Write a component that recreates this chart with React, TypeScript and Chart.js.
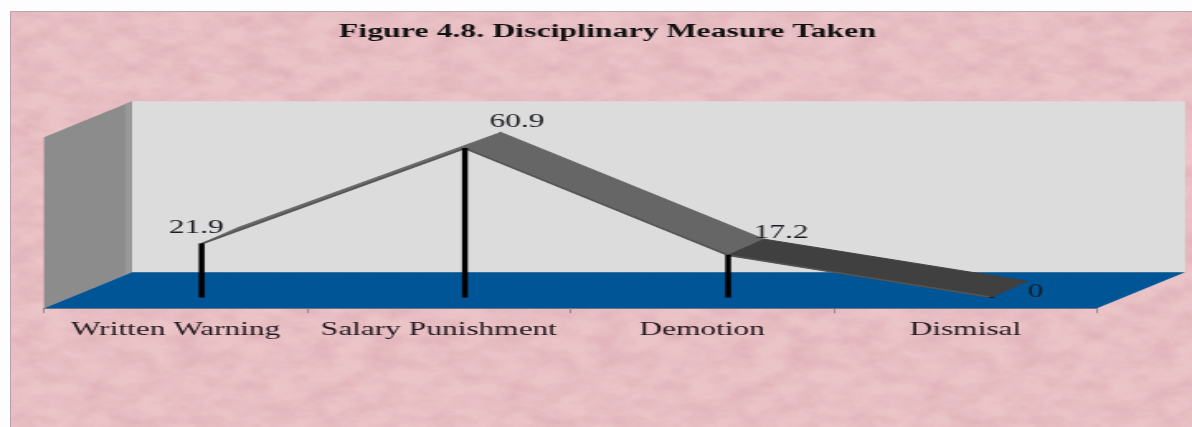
import React, { useEffect, useRef } from "react";
import { Chart, registerables } from "chart.js";

Chart.register(...registerables);

const categories = ["Written Warning", "Salary Punishment", "Demotion", "Dismisal"];
const percentages = [21.9, 60.9, 17.2, 0];
const valueMax = 70;
const titleText = "Figure 4.8. Disciplinary Measure Taken";

// The reference is a horizontally stretched picture: the chart is drawn narrow and stretched.
const PAGE_W = 1192;
const PAGE_H = 427;
const CANVAS_W = 722;
const K = PAGE_W / CANVAS_W;

const wallDepth = { x: 88 / K, y: -36 };
const seriesDepth = { x: 26 / K, y: -11 };
const ribbonDepth = { x: 36 / K, y: -16 };
const ribbonShades = ["#686868", "#666666", "#404040"];
const labelNudges = [
  { x: -5.5, y: -16 },
  { x: 52, y: -26 },
  { x: 53, y: -22 },
  { x: 44, y: -5 },
];

const FONT = '"Liberation Serif", serif';

const poly = (ctx: CanvasRenderingContext2D, pts: number[][], fill: string, stroke?: string) => {
  ctx.beginPath();
  pts.forEach(([x, y], i) => (i ? ctx.lineTo(x, y) : ctx.moveTo(x, y)));
  ctx.closePath();
  ctx.fillStyle = fill;
  ctx.fill();
  if (stroke) {
    ctx.strokeStyle = stroke;
    ctx.lineWidth = 1;
    ctx.stroke();
  }
};

const threeD = {
  id: "threeD",
  afterLayout(chart: any) {
    const shift = 37 / K;
    chart.titleBlock.left += shift;
    chart.titleBlock.right += shift;
  },
  beforeDatasetsDraw(chart: any) {
    const { ctx, chartArea: a } = chart;
    const d = wallDepth;
    const strip = 7 / K;
    ctx.save();
    poly(ctx, [[a.left + d.x, a.top + d.y], [a.right + d.x, a.top + d.y], [a.right + d.x, a.bottom + d.y], [a.left + d.x, a.bottom + d.y]], "#dcdcdc");
    poly(ctx, [[a.left, a.top], [a.left + d.x, a.top + d.y], [a.left + d.x, a.bottom + d.y], [a.left, a.bottom]], "#8c8c8c");
    poly(ctx, [[a.left + d.x - strip, a.top + d.y + 3], [a.left + d.x, a.top + d.y], [a.left + d.x, a.bottom + d.y], [a.left + d.x - strip, a.bottom + d.y + 3]], "#989898");
    poly(ctx, [[a.left, a.bottom], [a.right, a.bottom], [a.right + d.x, a.bottom + d.y], [a.left + d.x, a.bottom + d.y]], "#005596");

    // Ribbon top faces, built from the line dataset's own points.
    const pts = chart.getDatasetMeta(0).data;
    const s = seriesDepth;
    const r = ribbonDepth;
    ctx.translate(s.x, s.y);
    for (let i = 0; i < pts.length - 1; i++) {
      const p = pts[i];
      const q = pts[i + 1];
      poly(ctx, [[p.x, p.y], [q.x, q.y], [q.x + r.x, q.y + r.y], [p.x + r.x, p.y + r.y]], ribbonShades[i], ribbonShades[i]);
    }
    ctx.restore();
  },
  beforeDatasetDraw(chart: any) {
    chart.ctx.save();
    chart.ctx.translate(seriesDepth.x, seriesDepth.y);
  },
  afterDatasetDraw(chart: any) {
    chart.ctx.restore();
  },
  afterDatasetsDraw(chart: any) {
    const { ctx } = chart;
    const pts = chart.getDatasetMeta(0).data;
    ctx.save();
    ctx.font = `19px ${FONT}`;
    ctx.fillStyle = "#1c1c22";
    ctx.textAlign = "center";
    ctx.textBaseline = "middle";
    pts.forEach((p: any, i: number) => {
      ctx.fillText(
        String(percentages[i]),
        p.x + seriesDepth.x + labelNudges[i].x / K,
        p.y + seriesDepth.y + labelNudges[i].y,
      );
    });
    ctx.restore();
  },
};

const TEXTURE =
  "url(\"data:image/svg+xml;utf8,<svg xmlns='http://www.w3.org/2000/svg' width='420' height='210'>" +
  "<filter id='n' x='0' y='0' width='100%' height='100%' color-interpolation-filters='sRGB'><feTurbulence type='fractalNoise' baseFrequency='0.03 0.06' numOctaves='4' seed='7' stitchTiles='stitch'/>" +
  "<feColorMatrix values='0 0 0 0 0.86  0 0 0 0 0.67  0 0 0 0 0.70  1.3 0 0 0 -0.42'/></filter>" +
  "<rect width='420' height='210' filter='url(%23n)'/></svg>\")";

export default function App() {
  const ref = useRef<HTMLCanvasElement>(null);

  useEffect(() => {
    const chart = new Chart(ref.current as HTMLCanvasElement, {
      type: "bar",
      data: {
        labels: categories,
        datasets: [
          {
            type: "line",
            data: percentages,
            borderColor: "#555555",
            borderWidth: 1.6,
            pointRadius: 0,
            tension: 0,
            clip: false,
            order: 2,
          } as any,
          {
            type: "bar",
            data: percentages,
            backgroundColor: "#000000",
            barThickness: 2.8,
            clip: false,
            order: 1,
          } as any,
        ],
      },
      plugins: [threeD],
      options: {
        responsive: false,
        animation: false,
        devicePixelRatio: 1,
        layout: { padding: { left: 44 / K, right: (PAGE_W - 1097) / K, top: 0, bottom: 81 } },
        plugins: {
          legend: { display: false },
          tooltip: { enabled: false },
          title: {
            display: true,
            text: titleText,
            color: "#111111",
            font: { family: FONT, size: 19.3, weight: "bold" },
            padding: { top: 20, bottom: 94 },
          },
        },
        scales: {
          x: {
            offset: true,
            grid: { display: true, drawOnChartArea: false, drawTicks: true, tickLength: 5, color: "#9a8a8a", offset: true },
            border: { display: true, color: "#857f80", width: 1 },
            ticks: { color: "#1f181d", font: { family: FONT, size: 19 }, padding: 5, maxRotation: 0, autoSkip: false },
          },
          y: { display: false, min: 0, max: valueMax },
        },
      } as any,
    });
    return () => chart.destroy();
  }, []);

  return (
    <div style={{ position: "fixed", left: 0, top: 0, width: PAGE_W, height: PAGE_H, overflow: "hidden", background: "#fdfdfd" }}>
      <div
        style={{
          position: "absolute",
          left: 10,
          top: 11,
          width: PAGE_W - 10,
          height: PAGE_H - 11,
          boxSizing: "border-box",
          borderLeft: "1px solid #b89fac",
          borderTop: "1px solid #b9a9ae",
          backgroundColor: "#ebc4c8",
          backgroundImage: TEXTURE,
        }}
      />
      <canvas
        ref={ref}
        width={CANVAS_W}
        height={PAGE_H}
        style={{ position: "absolute", left: 0, top: 0, transformOrigin: "0 0", transform: `scaleX(${K})`, filter: "blur(0.35px)" }}
      />
    </div>
  );
}
